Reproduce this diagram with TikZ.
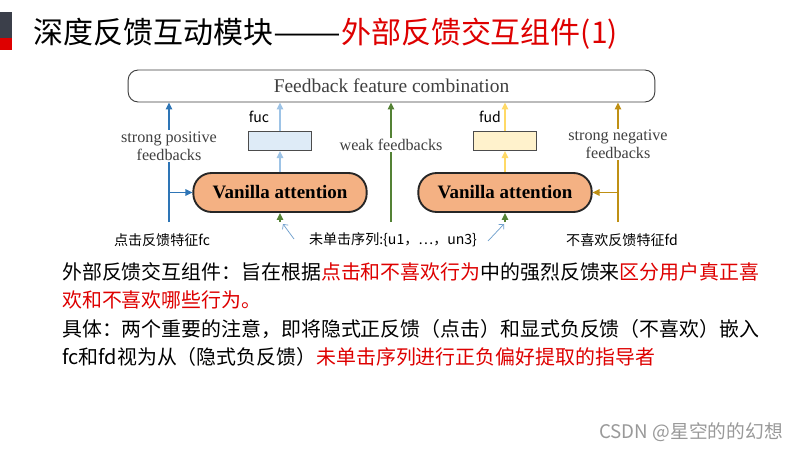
\documentclass[tikz,border=0pt]{standalone}
\usepackage{fontspec}
\setmainfont{Noto Sans CJK SC}
\newfontfamily\enserif{Liberation Serif}
\usepackage{tikz}
\usetikzlibrary{arrows.meta, positioning, calc}
\definecolor{posblue}{RGB}{46,117,182}
\definecolor{lightblue}{RGB}{157,195,230}
\definecolor{weakgreen}{RGB}{84,130,53}
\definecolor{lightyellow}{RGB}{255,217,102}
\definecolor{neggold}{RGB}{191,144,20}
\definecolor{vanillafill}{RGB}{244,177,131}
\definecolor{fucfill}{RGB}{222,235,247}
\definecolor{fudfill}{RGB}{255,242,204}
\definecolor{slidered}{RGB}{222,0,0}
\definecolor{bardark}{RGB}{59,63,74}
\tikzstyle{combine} = [rectangle, rounded corners=0.3cm, minimum width=15.8cm, minimum height=0.96cm, draw=black!75, line width=0.8pt, fill=white, text=black!75, font=\enserif\fontsize{16.6pt}{19pt}\selectfont]
\tikzstyle{vanilla} = [rectangle, rounded corners=0.55cm, minimum width=5.2cm, minimum height=1.17cm, draw=black!85, line width=1.6pt, fill=vanillafill, font=\enserif\bfseries\fontsize{16.2pt}{18pt}\selectfont]
\tikzstyle{feat} = [rectangle, minimum width=1.9cm, minimum height=0.57cm, draw=black!70, line width=0.8pt]
\tikzstyle{arrow} = [line width=1.3pt, -{Triangle[length=6pt, width=5.5pt]}]
\tikzstyle{hint} = [line width=0.6pt, posblue!70, -{Straight Barb[length=3pt]}]
\tikzstyle{lbl} = [align=center, fill=white, inner sep=1pt, text=black!75, font=\enserif\fontsize{13.8pt}{15.4pt}\selectfont]
\tikzstyle{src} = [inner sep=0pt, font=\fontsize{12pt}{14pt}\selectfont]
\tikzstyle{line} = [anchor=west, inner sep=0pt, font=\fontsize{17pt}{20pt}\selectfont]

\begin{document}
\begin{tikzpicture}[x=0.03cm, y=-0.03cm, node distance=0.63cm and 0.8cm]
  \useasboundingbox (0,0) rectangle (800,450);
  \fill[white] (0,0) rectangle (800,450);

  % Tiêu đề
  \fill[bardark] (0,12) rectangle (12,38);
  \fill[slidered] (0,38) rectangle (12,50);
  \node[anchor=west, inner sep=0pt, font=\fontsize{25.6pt}{28pt}\selectfont] (title) at (33,34) {深度反馈互动模块\scalebox{1.35}[1]{——}\textcolor{slidered}{外部反馈交互组件(1)}};

  % Hàng 1
  \node[combine] (comb) at (391.5,86) {Feedback feature combination};

  % Hàng 2
  \node[vanilla] (va_l) at (280,192.5) {Vanilla attention};
  \node[vanilla] (va_r) at (505,192.5) {Vanilla attention};
  \node[feat, fill=fucfill, above=0.63cm of va_l] (fuc) {};
  \node[feat, fill=fudfill, above=0.63cm of va_r] (fud) {};
  \node[src, font=\fontsize{12pt}{14pt}\selectfont] (fuc_t) at (259,117) {fuc};
  \node[src, font=\fontsize{12pt}{14pt}\selectfont] (fud_t) at (490,117) {fud};

  % Hàng 3
  \node[src] (fc) at (162,240) {点击反馈特征fc};
  \node[src] (unclick) at (393,240) {未单击序列:\{u1，…，un3\}};
  \node[src] (fd) at (622,240) {不喜欢反馈特征fd};

  \coordinate (pos_bot) at (169,222);
  \coordinate (weak_bot) at (391,222);
  \coordinate (neg_bot) at (618,222);
  \coordinate (in_l) at (280,222);
  \coordinate (in_r) at (505,222);
  \coordinate (hint_l) at (294,239);
  \coordinate (hint_r) at (488,241);

  % Mũi tên lên khối tổng hợp
  \draw[arrow, posblue] (pos_bot) -- (pos_bot |- comb.south);
  \draw[arrow, weakgreen] (weak_bot) -- (weak_bot |- comb.south);
  \draw[arrow, neggold] (neg_bot) -- (neg_bot |- comb.south);
  \draw[arrow, posblue] (pos_bot |- va_l.west) -- (va_l.west);
  \draw[arrow, neggold] (neg_bot |- va_r.east) -- (va_r.east);

  % Nhãn trên mũi tên
  \node[lbl] (pos_t) at (169,146) {strong positive\\feedbacks};
  \node[lbl] (weak_t) at (391,145) {weak feedbacks};
  \node[lbl] (neg_t) at (618,144.5) {strong negative\\feedbacks};

  % fuc / fud
  \draw[arrow, lightblue] (va_l.north) -- (fuc.south);
  \draw[arrow, lightblue] (fuc.north) -- (fuc.north |- comb.south);
  \draw[arrow, lightyellow] (va_r.north) -- (fud.south);
  \draw[arrow, lightyellow] (fud.north) -- (fud.north |- comb.south);

  % Chuỗi chưa nhấp
  \draw[arrow, weakgreen] (in_l) -- (va_l.south);
  \draw[arrow, weakgreen] (in_r) -- (va_r.south);
  \draw[hint] (hint_l) -- (283,224);
  \draw[hint] (hint_r) -- (504,224);

  % Văn bản
  \node[line] (l1) at (62,272) {外部反馈交互组件：旨在根据\textcolor{slidered}{点击和不喜欢行为}中的强烈反馈来\textcolor{slidered}{区分用户真正喜}};
  \node[line] (l2) at (62,300) {\textcolor{slidered}{欢和不喜欢哪些行为。}};
  \node[line] (l3) at (62,329) {具体：两个重要的注意，即将隐式正反馈（点击）和显式负反馈（不喜欢）嵌入};
  \node[line] (l4) at (62,357) {fc和fd视为从（隐式负反馈）\textcolor{slidered}{未单击序列进行正负偏好提取的指导者}};

  \node[anchor=east, inner sep=0pt, text=black!40, font=\fontsize{16pt}{18pt}\selectfont] (mark) at (783,432) {CSDN @星空的的幻想};
\end{tikzpicture}
\end{document}
